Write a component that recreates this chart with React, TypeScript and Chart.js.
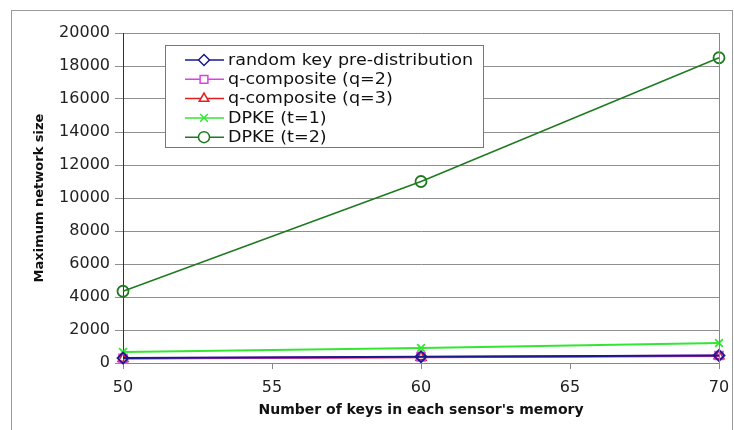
import React, { useEffect, useRef } from 'react';
import { Chart, registerables } from 'chart.js';
import { drawPoint } from 'chart.js/helpers';

Chart.register(...registerables);

const keysInMemory = [50, 60, 70];
const randomKeyPre = [300, 380, 460];
const qComposite2 = [290, 370, 450];
const qComposite3 = [270, 350, 430];
const dpkeT1 = [660, 910, 1210];
const dpkeT2 = [4350, 11000, 18500];

const seriesLabels = [
  'random key pre-distribution',
  'q-composite (q=2)',
  'q-composite (q=3)',
  'DPKE (t=1)',
  'DPKE (t=2)',
];
const seriesColors = ['#1a1a8c', '#e040e0', '#e02020', '#33e633', '#1f7a1f'];
const seriesMarkers = ['rectRot', 'rect', 'triangle', 'crossRot', 'circle'];
const seriesValues = [randomKeyPre, qComposite2, qComposite3, dpkeT1, dpkeT2];

const xTitle = "Number of keys in each sensor's memory";
const yTitle = 'Maximum network size';

const FONT = "'DejaVu Sans', Verdana, sans-serif";

const framePlugin = {
  id: 'frame',
  beforeDraw(chart: any) {
    const ctx = chart.ctx;
    ctx.save();
    ctx.fillStyle = '#ffffff';
    ctx.fillRect(0, 0, chart.width, chart.height);
    ctx.strokeStyle = '#9a9a9a';
    ctx.lineWidth = 1;
    ctx.strokeRect(11.5, 10.5, 721, 440);
    ctx.restore();
  },
  afterDraw(chart: any) {
    const ctx = chart.ctx;
    const a = chart.chartArea;
    ctx.save();
    ctx.strokeStyle = '#8a8a8a';
    ctx.lineWidth = 1;
    ctx.beginPath();
    ctx.moveTo(Math.round(a.right) + 0.5, a.top);
    ctx.lineTo(Math.round(a.right) + 0.5, a.bottom);
    ctx.stroke();

    const bx = 165, by = 45, bw = 318, bh = 102;
    ctx.fillStyle = '#ffffff';
    ctx.fillRect(bx, by, bw, bh);
    ctx.strokeStyle = '#777777';
    ctx.strokeRect(bx + 0.5, by + 0.5, bw, bh);
    ctx.font = `15px ${FONT}`;
    ctx.textBaseline = 'middle';
    ctx.textAlign = 'left';
    const w0 = ctx.measureText(chart.data.datasets[0].label).width;
    const sx = 245 / w0;
    chart.data.datasets.forEach((ds: any, i: number) => {
      const y = 60 + i * 19.3;
      ctx.strokeStyle = ds.borderColor;
      ctx.lineWidth = 1.5;
      ctx.beginPath();
      ctx.moveTo(185, y);
      ctx.lineTo(224, y);
      ctx.stroke();
      ctx.fillStyle = '#ffffff';
      drawPoint(ctx, { pointStyle: ds.pointStyle, radius: 5.5, borderWidth: 1.5, rotation: 0 } as any, 204, y);
      ctx.fillStyle = '#111111';
      ctx.save();
      ctx.translate(228, y + 1);
      ctx.scale(sx, 1);
      ctx.fillText(ds.label, 0, 0);
      ctx.restore();
    });
    ctx.restore();
  },
};

export default function App() {
  const ref = useRef<HTMLCanvasElement | null>(null);
  useEffect(() => {
    if (!ref.current) return;
    const datasets = seriesLabels.map((label, i) => ({
      label,
      data: keysInMemory.map((k, j) => ({ x: k, y: seriesValues[i][j] })),
      borderColor: seriesColors[i],
      backgroundColor: 'rgba(255,255,255,0)',
      pointBackgroundColor: 'rgba(255,255,255,0)',
      pointBorderColor: seriesColors[i],
      pointStyle: seriesMarkers[i],
      pointRadius: 5.5,
      pointBorderWidth: 1.8,
      borderWidth: i === 4 ? 1.5 : 2,
      tension: 0,
      clip: false,
    }));
    const chart = new Chart(ref.current, {
      type: 'line',
      data: { datasets },
      plugins: [framePlugin],
      options: {
        responsive: false,
        animation: false,
        layout: { padding: { left: 0, top: 33, right: 15, bottom: 0 } },
        plugins: { legend: { display: false }, tooltip: { enabled: false } },
        scales: {
          x: {
            type: 'linear',
            min: 50,
            max: 70,
            ticks: { stepSize: 5, color: '#222', font: { family: FONT, size: 16 }, padding: 9, callback: (v: any) => String(v) },
            grid: { drawOnChartArea: false, drawTicks: true, tickLength: 6, color: '#888' },
            border: { display: true, color: '#888' },
            title: {
              display: true,
              text: xTitle,
              color: '#111',
              font: { family: FONT, size: 14, weight: 'bold' },
              padding: { top: 0, bottom: 11 },
            },
            afterFit: (s: any) => { s.height = 67; s.paddingRight = 0; },
          },
          y: {
            min: 0,
            max: 20000,
            ticks: { stepSize: 2000, color: '#222', font: { family: FONT, size: 16 }, padding: 5, callback: (v: any) => String(v) },
            grid: { color: '#8f8f8f', tickLength: 8, drawTicks: true },
            border: { display: true, color: '#333' },
            title: {
              display: true,
              text: yTitle,
              color: '#111',
              font: { family: FONT, size: 13, weight: 'bold' },
              padding: { top: 32, bottom: 0 },
            },
            afterFit: (s: any) => { s.width = 123; },
          },
        },
      } as any,
    });
    return () => chart.destroy();
  }, []);
  return (
    <div style={{ position: 'fixed', left: 0, top: 0, width: 734, height: 430, background: '#fff' }}>
      <canvas ref={ref} width={734} height={430} style={{ width: 734, height: 430, display: 'block' }} />
    </div>
  );
}
